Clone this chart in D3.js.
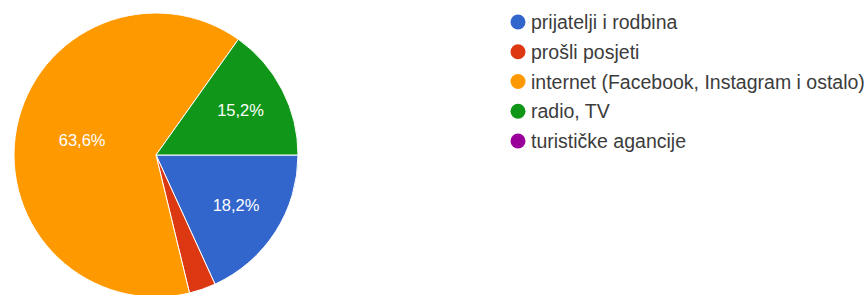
<!DOCTYPE html>
<html>
<head>
<meta charset="utf-8">
<script src="https://cdn.jsdelivr.net/npm/d3@7"></script>
<style>
  body { margin: 0; background: #fff; }
  svg { display: block; font-family: "Liberation Sans", Arial, sans-serif; }
</style>
</head>
<body>
<div id="chart"></div>
<script>
// answers to the survey question (33 responses)
const categories = ["prijatelji i rodbina", "prošli posjeti", "internet (Facebook, Instagram i ostalo)", "radio, TV", "turističke agancije"];
const counts = [6, 1, 21, 5, 0];
const colors = ["#3366cc", "#dc3912", "#ff9900", "#109618", "#990099"];

const W = 867, H = 295;
const cx = 156, cy = 155, r = 142;

const svg = d3.select("#chart").append("svg")
    .attr("width", W)
    .attr("height", H);

const total = d3.sum(counts);
const data = categories.map((c, i) => ({ name: c, value: counts[i], color: colors[i] }));

// google forms pie: starts at 3 o'clock, goes clockwise, keeps order
const pie = d3.pie()
    .value(d => d.value)
    .sort(null)
    .startAngle(Math.PI / 2)
    .endAngle(Math.PI / 2 + 2 * Math.PI);

const arc = d3.arc().innerRadius(0).outerRadius(r);
const arcs = pie(data).filter(d => d.data.value > 0);

const g = svg.append("g").attr("transform", `translate(${cx},${cy})`);

g.selectAll("path")
    .data(arcs)
    .join("path")
        .attr("d", arc)
        .attr("fill", d => d.data.color)
        .attr("stroke", "#fff")
        .attr("stroke-width", 1);

// percentage labels (small slices get none)
const fmt = v => d3.format(".1f")(v).replace(".", ",") + "%";
const labelArc = d => {
    const k = (d.endAngle - d.startAngle) > Math.PI ? 0.53 : 0.67;
    return d3.arc().innerRadius(r * k).outerRadius(r * k);
};
g.selectAll("text.pct")
    .data(arcs.filter(d => d.data.value / total > 0.05))
    .join("text")
        .attr("class", "pct")
        .attr("transform", d => `translate(${labelArc(d).centroid(d)})`)
        .attr("text-anchor", "middle")
        .attr("dy", "0.3em")
        .attr("fill", "#fff")
        .attr("font-size", 16.5)
        .text(d => fmt(d.data.value / total * 100));

// legend
const ly = d3.scalePoint()
    .domain(categories)
    .range([22, 141]);

const leg = svg.append("g")
    .selectAll("g")
    .data(data)
    .join("g")
        .attr("transform", d => `translate(518,${ly(d.name)})`);

leg.append("circle")
    .attr("r", 7.5)
    .attr("fill", d => d.color);

leg.append("text")
    .attr("x", 13)
    .attr("dy", "0.36em")
    .attr("fill", "#3c3c3c")
    .attr("font-size", 19.5)
    .text(d => d.name);
</script>
</body>
</html>
